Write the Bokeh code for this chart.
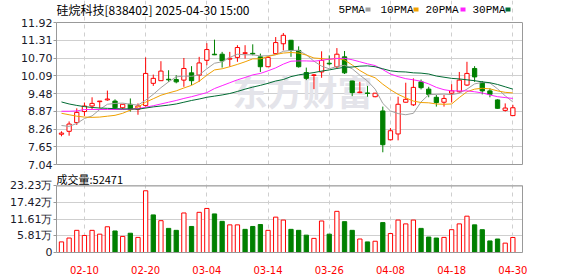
from bokeh.plotting import figure
from bokeh.models import (ColumnDataSource, Range1d, FixedTicker, NumeralTickFormatter, Label,
                          Span, BoxAnnotation, LinearAxis)
from bokeh.layouts import column
from bokeh.embed import file_html
from bokeh.resources import INLINE

# ---------------- data ----------------
dates = ["02-05", "02-06", "02-07", "02-10", "02-11", "02-12", "02-13", "02-14", "02-17", "02-18",
         "02-19", "02-20", "02-21", "02-24", "02-25", "02-26", "02-27", "02-28", "03-03", "03-04",
         "03-05", "03-06", "03-07", "03-10", "03-11", "03-12", "03-13", "03-14", "03-17", "03-18",
         "03-19", "03-20", "03-21", "03-24", "03-25", "03-26", "03-27", "03-28", "03-31", "04-01",
         "04-02", "04-03", "04-07", "04-08", "04-09", "04-10", "04-11", "04-14", "04-15", "04-16",
         "04-17", "04-18", "04-21", "04-22", "04-23", "04-24", "04-25", "04-28", "04-29", "04-30"]

open_ = [8.08, 8.18, 8.48, 8.86, 9.05, 9.20, 9.26, 9.22, 8.99, 9.11,
         8.94, 9.07, 9.83, 9.92, 9.97, 9.96, 9.94, 10.19, 10.11, 10.62,
         10.83, 10.83, 10.66, 10.72, 10.86, 10.86, 10.74, 10.40, 10.85, 11.19,
         11.31, 10.96, 10.20, 10.10, 10.22, 10.52, 10.40, 10.74, 9.91, 9.51,
         9.50, 9.37, 8.88, 7.89, 8.09, 9.18, 9.09, 9.88, 9.63, 9.35,
         9.18, 9.49, 9.54, 9.77, 10.34, 9.86, 9.57, 9.26, 8.90, 8.72]
high = [8.18, 8.52, 8.97, 9.17, 9.35, 9.22, 9.58, 9.28, 9.12, 9.31,
        9.14, 10.72, 10.13, 10.59, 10.28, 10.11, 10.70, 10.42, 10.74, 11.21,
        11.33, 10.91, 10.91, 11.14, 11.14, 11.17, 10.85, 10.74, 11.42, 11.56,
        11.32, 11.10, 10.37, 10.15, 10.93, 10.79, 11.04, 10.94, 9.92, 9.88,
        9.74, 9.50, 9.03, 8.29, 9.37, 9.85, 10.00, 9.96, 9.71, 9.43,
        9.43, 9.80, 10.22, 10.57, 10.42, 9.91, 9.66, 9.28, 9.14, 9.09]
low = [8.01, 8.03, 8.40, 8.71, 8.94, 8.97, 9.23, 8.94, 8.94, 8.86,
       8.75, 9.03, 9.74, 9.92, 9.88, 9.83, 9.71, 9.77, 9.88, 10.45,
       10.80, 10.37, 10.40, 10.57, 10.68, 10.79, 10.22, 10.39, 10.83, 10.96,
       10.74, 10.37, 9.94, 9.63, 10.02, 10.45, 10.34, 10.15, 9.39, 9.49,
       9.37, 9.35, 7.46, 7.87, 7.87, 9.17, 9.05, 9.62, 9.35, 9.03,
       9.03, 9.17, 9.51, 9.74, 9.88, 9.45, 9.35, 8.96, 8.86, 8.72]
close = [8.12, 8.43, 8.83, 9.05, 9.14, 9.22, 9.29, 8.99, 9.11, 8.94,
         9.05, 10.17, 10.00, 10.25, 9.95, 9.88, 10.34, 9.92, 10.53, 10.99,
         10.81, 10.60, 10.69, 11.06, 10.88, 10.84, 10.40, 10.72, 11.23, 11.48,
         10.96, 10.40, 10.00, 10.12, 10.62, 10.50, 10.83, 10.19, 9.51, 9.53,
         9.48, 9.49, 7.72, 8.20, 9.11, 9.28, 9.69, 9.68, 9.45, 9.17,
         9.31, 9.57, 9.94, 10.17, 10.05, 9.57, 9.45, 8.97, 8.98, 8.99]

ma5 = [8.38, 8.35, 8.45, 8.62, 8.71, 8.93, 9.11, 9.14, 9.15, 9.11,
       9.08, 9.25, 9.45, 9.68, 9.88, 10.05, 10.08, 10.07, 10.12, 10.33,
       10.52, 10.57, 10.72, 10.83, 10.81, 10.81, 10.77, 10.78, 10.81, 10.93,
       10.96, 10.96, 10.81, 10.59, 10.42, 10.33, 10.41, 10.45, 10.33, 10.11,
       9.91, 9.63, 9.14, 8.88, 8.79, 8.75, 8.80, 9.19, 9.44, 9.45,
       9.46, 9.44, 9.49, 9.63, 9.81, 9.86, 9.84, 9.64, 9.40, 9.19]
ma10 = [8.80, 8.75, 8.70, 8.67, 8.66, 8.67, 8.70, 8.73, 8.80, 8.91,
        9.01, 9.18, 9.30, 9.42, 9.50, 9.57, 9.67, 9.76, 9.90, 10.11,
        10.29, 10.33, 10.40, 10.48, 10.57, 10.67, 10.67, 10.75, 10.82, 10.87,
        10.89, 10.87, 10.80, 10.70, 10.68, 10.65, 10.69, 10.63, 10.46, 10.27,
        10.12, 10.02, 9.80, 9.61, 9.45, 9.33, 9.22, 9.17, 9.16, 9.12,
        9.11, 9.12, 9.34, 9.54, 9.63, 9.66, 9.64, 9.57, 9.52, 9.50]
ma20 = [8.87, 8.87, 8.88, 8.93, 8.93, 8.93, 8.93, 8.93, 8.93, 8.94,
        8.96, 9.01, 9.06, 9.12, 9.18, 9.24, 9.31, 9.37, 9.44, 9.51,
        9.65, 9.75, 9.85, 9.95, 10.03, 10.12, 10.17, 10.26, 10.36, 10.49,
        10.59, 10.60, 10.60, 10.59, 10.62, 10.66, 10.68, 10.69, 10.64, 10.57,
        10.50, 10.44, 10.30, 10.15, 10.06, 9.99, 9.95, 9.90, 9.81, 9.69,
        9.61, 9.57, 9.57, 9.57, 9.54, 9.50, 9.43, 9.37, 9.34, 9.31]
ma30 = [9.19, 9.12, 9.07, 9.03, 9.00, 8.98, 8.97, 8.96, 8.95, 8.95,
        8.94, 8.98, 9.02, 9.05, 9.08, 9.12, 9.18, 9.24, 9.29, 9.35,
        9.39, 9.43, 9.48, 9.55, 9.63, 9.70, 9.76, 9.83, 9.91, 9.96,
        10.06, 10.12, 10.16, 10.20, 10.25, 10.29, 10.34, 10.38, 10.39, 10.42,
        10.43, 10.40, 10.33, 10.26, 10.23, 10.22, 10.19, 10.18, 10.15, 10.08,
        10.04, 10.00, 9.98, 9.95, 9.92, 9.88, 9.85, 9.79, 9.71, 9.63]

volume = [37000, 50500, 77400, 59500, 77400, 64000, 89800, 75200, 56100, 67300,
          52700, 215500, 131300, 111100, 84200, 77400, 138000, 90900, 140300, 153800,
          134700, 108800, 96500, 96500, 80800, 90900, 97600, 77400, 123500, 113300,
          80800, 77400, 60600, 49300, 110000, 64000, 143700, 107700, 77400, 47100,
          37000, 39300, 104400, 66200, 113300, 99900, 113300, 84200, 53900, 50500,
          52700, 79700, 99900, 126800, 96500, 79700, 40400, 47100, 32700, 52471]

price_ticks = [7.04, 7.65, 8.26, 8.87, 9.48, 10.09, 10.70, 11.31, 11.92]
vol_ticks = [0, 58100, 116100, 174200, 232300]
vol_tick_labels = ["0", "5.81万", "11.61万", "17.42万", "23.23万"]
axis_dates = ["02-10", "02-20", "03-04", "03-14", "03-26", "04-08", "04-18", "04-30"]

title_text = "硅烷科技[838402] 2025-04-30 15:00"
ma_names = ["5PMA", "10PMA", "20PMA", "30PMA"]
ma_colors = ["#a0a0a0", "#f0a000", "#ff22ff", "#006b33"]

# ---------------- derived ----------------
RED = "#ff0000"
GREEN = "#008000"
n = len(dates)
xs = list(range(n))
up = [c >= o for o, c in zip(open_, close)]
candle = ColumnDataSource(dict(
    x=xs, low=low, high=high,
    top=[max(o, c) for o, c in zip(open_, close)],
    bottom=[min(o, c) for o, c in zip(open_, close)],
    color=[RED if u else GREEN for u in up],
    fill=["white" if u else GREEN for u in up],
))
vol_up = [True] + [close[i] >= close[i - 1] for i in range(1, n)]
vols = ColumnDataSource(dict(
    x=xs, v=volume,
    color=[RED if u else GREEN for u in vol_up],
    fill=["white" if u else GREEN for u in vol_up],
))
date_ticks = [dates.index(d) for d in axis_dates]

# ---------------- layout constants (pixels) ----------------
W, H = 578, 276
LEFT, RIGHT = 56, 56
FRAME_W = W - LEFT - RIGHT
X0, X1 = -0.65, 60.26
PXX = FRAME_W / (X1 - X0)
x_range = Range1d(X0, X1)
GRID = "#cfcfcf"
BORDER = "#999999"
TICKFONT = "DejaVu Sans"
TICKCOL = "#1a1a2a"

P_LO, P_HI = price_ticks[0], price_ticks[-1]
P_TOP_PIX, P_BOT_PIX = 22, 164          # page rows of 11.92 and 7.04
SPLIT = 171                             # page row where the volume panel starts
PX1 = (P_BOT_PIX - P_TOP_PIX) / (P_HI - P_LO)
V_HI = vol_ticks[-1]
V_TOP_PIX, V_BOT_PIX = 186, 255
PXV = (V_BOT_PIX - V_TOP_PIX) / V_HI


def x_at(pix):
    return X0 + (pix - LEFT) / PXX


def y1_at(pix):
    return P_LO + (P_BOT_PIX - pix) / PX1


def y2_at(pix):
    return (V_BOT_PIX - pix) / PXV


def style_y(ax):
    ax.axis_line_color = BORDER
    ax.major_tick_line_color = BORDER
    ax.major_tick_out = 3
    ax.major_tick_in = 0
    ax.minor_tick_line_color = None
    ax.major_label_standoff = 1
    ax.major_label_text_font = TICKFONT
    ax.major_label_text_font_size = "11px"
    ax.major_label_text_color = TICKCOL


def blank_axis(ax):
    ax.axis_line_color = BORDER
    ax.major_tick_line_color = None
    ax.minor_tick_line_color = None
    ax.major_label_text_font_size = "0px"
    ax.major_label_standoff = 0


# ---------------- price panel ----------------
p1 = figure(width=W, height=SPLIT, x_range=x_range, y_range=Range1d(P_LO, y1_at(0)),
            output_backend="svg", toolbar_location=None,
            min_border_left=LEFT, min_border_right=RIGHT, min_border_top=0,
            min_border_bottom=SPLIT - P_BOT_PIX)
p1.outline_line_color = None
p1.yaxis.ticker = FixedTicker(ticks=price_ticks)
p1.yaxis.formatter = NumeralTickFormatter(format="0.00")
p1.yaxis.bounds = (P_LO, P_HI)
for ax in p1.yaxis:
    style_y(ax)
p1.xaxis.ticker = FixedTicker(ticks=[])
for ax in p1.xaxis:
    blank_axis(ax)
r1 = LinearAxis(ticker=FixedTicker(ticks=[]), bounds=(P_LO, P_HI))
blank_axis(r1)
p1.add_layout(r1, "right")
p1.add_layout(Span(location=P_HI, dimension="width", line_color=BORDER, line_width=1))

p1.ygrid.ticker = FixedTicker(ticks=price_ticks)
p1.xgrid.ticker = FixedTicker(ticks=date_ticks)
p1.xgrid.bounds = (P_LO, P_HI)
p1.xgrid.grid_line_dash = "4 4"
for g in (p1.xgrid, p1.ygrid):
    g.grid_line_color = GRID

p1.add_layout(Label(x=31.5, y=y1_at(90), text="东方财富", text_align="center", text_baseline="middle",
                    text_font="Noto Sans CJK SC", text_font_size="35px", text_font_style="bold",
                    text_color="#e4e4ea", level="underlay"))

p1.segment(x0="x", y0="low", x1="x", y1="high", line_color="color", line_width=1, source=candle)
p1.vbar(x="x", width=0.56, top="top", bottom="bottom", fill_color="fill", line_color="color",
        line_width=1, source=candle)
for vals, col in zip([ma5, ma10, ma20, ma30], ma_colors):
    p1.line(xs, vals, line_color=col, line_width=1)

# title and legend, above the plotted area
p1.add_layout(Label(x=x_at(56), y=y1_at(8.5), text=title_text,
                    text_baseline="middle", text_font="Noto Sans CJK SC",
                    text_font_size="12px", text_color="#000000"))
leg_text_pix = [338, 380, 425, 472]
leg_box_pix = [365, 413, 460, 505]
for name, col, lx, bx in zip(ma_names, ma_colors, leg_text_pix, leg_box_pix):
    p1.add_layout(Label(x=x_at(lx), y=y1_at(9), text=name,
                        text_baseline="middle", text_font="Liberation Mono",
                        text_font_size="11px", text_color="#000000"))
    p1.add_layout(BoxAnnotation(left=x_at(bx), right=x_at(bx + 5), top=y1_at(7), bottom=y1_at(11),
                                fill_color=col, fill_alpha=1.0, line_color=None))

# ---------------- volume panel ----------------
p2 = figure(width=W, height=H - SPLIT, x_range=x_range,
            y_range=Range1d(0, y2_at(SPLIT)),
            output_backend="svg", toolbar_location=None,
            min_border_left=LEFT, min_border_right=RIGHT, min_border_top=0,
            min_border_bottom=H - V_BOT_PIX)
p2.outline_line_color = None
p2.yaxis.ticker = FixedTicker(ticks=vol_ticks)
p2.yaxis.major_label_overrides = {t: s for t, s in zip(vol_ticks, vol_tick_labels)}
p2.yaxis.bounds = (0, V_HI)
for ax in p2.yaxis:
    style_y(ax)
r2 = LinearAxis(ticker=FixedTicker(ticks=[]), bounds=(0, V_HI))
blank_axis(r2)
p2.add_layout(r2, "right")
p2.add_layout(Span(location=V_HI, dimension="width", line_color=BORDER, line_width=1))

p2.xaxis.ticker = FixedTicker(ticks=date_ticks)
p2.xaxis.major_label_overrides = {dates.index(d): d for d in axis_dates}
for ax in p2.xaxis:
    ax.axis_line_color = BORDER
    ax.major_tick_line_color = None
    ax.minor_tick_line_color = None
    ax.major_label_standoff = 7
    ax.major_label_text_font = TICKFONT
    ax.major_label_text_font_size = "10px"
    ax.major_label_text_color = RED
p2.ygrid.ticker = FixedTicker(ticks=vol_ticks)
p2.xgrid.bounds = (0, V_HI)
p2.xgrid.grid_line_dash = "4 4"
for g in (p2.xgrid, p2.ygrid):
    g.grid_line_color = GRID

p2.vbar(x="x", width=0.56, top="v", bottom=0, fill_color="fill", line_color="color",
        line_width=1, source=vols)

p2.add_layout(Label(x=x_at(56), y=y2_at(179), text="成交量:" + str(volume[-1]),
                    text_baseline="middle", text_font="Noto Sans CJK SC",
                    text_font_size="11px", text_color="#000000"))

layout = column(p1, p2, spacing=0)
open("out.html", "w").write(file_html(layout, INLINE))
